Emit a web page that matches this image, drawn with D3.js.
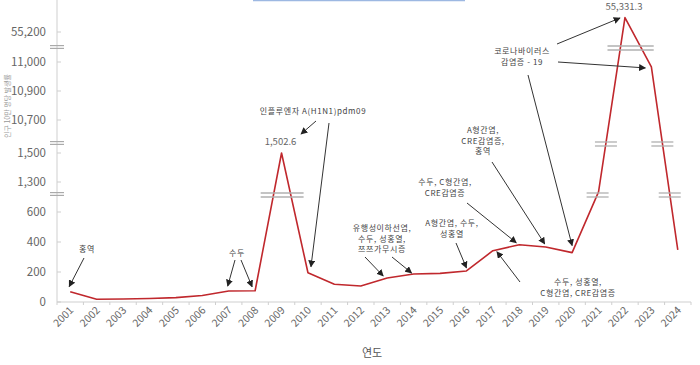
<!DOCTYPE html>
<html>
<head>
<meta charset="utf-8">
<script src="https://cdn.jsdelivr.net/npm/d3@7/dist/d3.min.js"></script>
<style>
  body { margin: 0; background: #fff; }
  svg { display: block; font-family: "Noto Sans CJK KR", "DejaVu Sans", sans-serif; }
</style>
</head>
<body>
<div id="chart"></div>
<script>
// incidence per 100k by year
const years = ['2001','2002','2003','2004','2005','2006','2007','2008','2009','2010','2011','2012',
  '2013','2014','2015','2016','2017','2018','2019','2020','2021','2022','2023','2024'];
const values = [69, 18, 20, 23, 29, 43, 73, 75, 1502.6, 195, 118, 107,
  160, 187, 191, 207, 342, 382, 367, 329, 1070, 55331.3, 10983, 347];

// broken y axis: tick labels and where the axis is cut
const yTicks = [0, 200, 400, 600, 1300, 1500, 10700, 10900, 11000, 55200];
const yBreaks = [1020, 4290, 33100];

const xTitle = '연도';
const yTitle = '인구 10만 명당 발생률';

let width = 700, height = 365;
let svg = d3.select('#chart').append('svg').attr('width', width).attr('height', height);

let x = d3.scaleBand().domain(years).range([57, 691]);
let bw = x.bandwidth();
// piecewise scale, one piece per axis segment
let y = d3.scaleLinear()
  .domain([0, 600, 1300, 1500, 10700, 10900, 11000, 55200, 55400])
  .range([302, 212, 182, 153, 120, 91, 62, 32, 10]);

let data = years.map((yr, i) => ({year: yr, value: values[i]}));
let px = d => x(d.year) + bw / 2;
let py = d => y(d.value);

// faint blue rule at top (cropped from source)
svg.append('line').attr('x1', 253).attr('x2', 465).attr('y1', 0.5).attr('y2', 0.5)
  .attr('stroke', '#9db8e2').attr('stroke-width', 1.5);

// axes
svg.append('line').attr('x1', 57).attr('x2', 57).attr('y1', 0).attr('y2', 302)
  .attr('stroke', '#cfcfcf');
svg.append('line').attr('x1', 57).attr('x2', 691).attr('y1', 302).attr('y2', 302)
  .attr('stroke', '#cfcfcf');

let bounds = years.map(yr => x(yr)).concat([x.range()[1]]);
svg.selectAll('.xtick').data(bounds).join('line')
  .attr('x1', d => d).attr('x2', d => d).attr('y1', 302).attr('y2', 305)
  .attr('stroke', '#cfcfcf');

svg.selectAll('.xlab').data(years).join('text')
  .attr('transform', d => `translate(${x(d) + bw / 2 + 4},${311}) rotate(-45)`)
  .attr('text-anchor', 'end')
  .attr('font-size', 10.5)
  .attr('fill', '#666')
  .text(d => d);

svg.selectAll('.ytick').data(yTicks).join('line')
  .attr('x1', 57).attr('x2', 61).attr('y1', d => y(d)).attr('y2', d => y(d))
  .attr('stroke', '#cfcfcf');

svg.selectAll('.ylab').data(yTicks).join('text')
  .attr('x', 46).attr('y', d => y(d) + 4)
  .attr('text-anchor', 'end')
  .attr('font-size', 11.5)
  .attr('fill', '#666')
  .text(d => d3.format(',')(d));

// axis break marks
yBreaks.forEach(b => {
  [-1.4, 1.4].forEach(o => {
    svg.append('line').attr('x1', 50).attr('x2', 64)
      .attr('y1', y(b) + o).attr('y2', y(b) + o)
      .attr('stroke', '#aaa').attr('stroke-width', 1.2);
  });
});

svg.append('text').attr('x', 372).attr('y', 357).attr('text-anchor', 'middle')
  .attr('font-size', 11).attr('fill', '#555').text(xTitle);

svg.append('text').attr('transform', 'translate(10,106) rotate(-90)')
  .attr('text-anchor', 'middle').attr('font-size', 7).attr('fill', '#999').text(yTitle);

// the line
svg.append('path').datum(data)
  .attr('fill', 'none').attr('stroke', '#c0282d').attr('stroke-width', 1.6)
  .attr('stroke-linejoin', 'round')
  .attr('d', d3.line().x(px).y(py));

// break marks where the line passes through a cut
yBreaks.forEach(b => {
  let yb = y(b);
  let hits = [];
  for (let i = 0; i < data.length - 1; i++) {
    let y0 = py(data[i]), y1 = py(data[i + 1]);
    if ((y0 - yb) * (y1 - yb) < 0) {
      let t = (y0 - yb) / (y0 - y1);
      hits.push({i: i, x: px(data[i]) + t * bw});
    }
  }
  let spans = [];
  hits.forEach(h => {
    let last = spans[spans.length - 1];
    if (last && h.i == last.i + 1) { last.x2 = h.x + 13; last.i = h.i; }
    else spans.push({i: h.i, x1: h.x - 11, x2: h.x + 11, single: true});
  });
  spans.forEach(s => {
    if (s.x2 - s.x1 > 22) s.x1 -= 2;
    [-2, 2].forEach(o => {
      svg.append('line').attr('x1', s.x1).attr('x2', s.x2)
        .attr('y1', yb + 1 + o).attr('y2', yb + 1 + o)
        .attr('stroke', '#b0b0b0').attr('stroke-width', 1.3);
    });
  });
});

// value labels
let peakLabels = ['2009', '2022'];
peakLabels.forEach(yr => {
  let d = data.find(e => e.year == yr);
  svg.append('text').attr('x', px(d) - 1).attr('y', Math.max(py(d) - 8, 10))
    .attr('text-anchor', 'middle').attr('font-size', 9.5).attr('fill', '#666')
    .text(d3.format(',.1f')(d.value));
});

// annotations
svg.append('defs').append('marker')
  .attr('id', 'arr').attr('viewBox', '0 0 10 10').attr('refX', 9).attr('refY', 5)
  .attr('markerWidth', 7).attr('markerHeight', 7).attr('orient', 'auto')
  .append('path').attr('d', 'M0,0L10,5L0,10z').attr('fill', '#222');

let pt = (yr, dx, dy) => {
  let d = data.find(e => e.year == yr);
  return [px(d) + dx, py(d) + dy];
};

let notes = [
  {lines: ['홍역'], at: [87, 249], arrows: [[[84, 258], pt('2001', -1, -5)]]},
  {lines: ['수두'], at: [237, 253], arrows: [[[235, 260], pt('2007', -1, -5)], [[241, 260], pt('2008', -3, -4)]]},
  {lines: ['인플루엔자 A(H1N1)pdm09'], at: [313, 111], arrows: [[[316, 121], [301, 134]], [[329, 123], pt('2010', 3, -6)]]},
  {lines: ['유행성이하선염,', '수두, 성홍열,', '쯔쯔가무시증'], at: [382, 228], arrows: [[[365, 257], pt('2013', -4, -2)], [[392, 257], pt('2014', -2, -1)]]},
  {lines: ['A형간염, 수두,', '성홍열'], at: [452, 223], arrows: [[[456, 243], pt('2016', 0, -3)]]},
  {lines: ['수두, C형간염,', 'CRE감염증'], at: [445, 182], arrows: [[[467, 203], pt('2018', -3, -2)]]},
  {lines: ['A형간염,', 'CRE감염증,', '홍역'], at: [483, 130], arrows: [[[492, 162], pt('2019', -1, -3)]]},
  {lines: ['수두, 성홍열,', 'C형간염, CRE감염증'], at: [578, 282], arrows: [[[520, 282], pt('2017', 4, 1)]]},
  {lines: ['코로나바이러스', '감염증 - 19'], at: [522, 51], arrows: [[[557, 44], [620, 18]], [[558, 62], pt('2023', -6, 1)], [[528, 75], pt('2020', 0, -7)]]}
];

notes.forEach(n => {
  let t = svg.append('text').attr('text-anchor', 'middle').attr('font-size', 8)
    .attr('fill', '#444').attr('letter-spacing', 0.6);
  n.lines.forEach((l, i) => {
    t.append('tspan').attr('x', n.at[0]).attr('y', n.at[1] + 3 + i * 10.5).text(l);
  });
  n.arrows.forEach(a => {
    svg.append('line').attr('x1', a[0][0]).attr('y1', a[0][1])
      .attr('x2', a[1][0]).attr('y2', a[1][1])
      .attr('stroke', '#333').attr('stroke-width', 1)
      .attr('marker-end', 'url(#arr)');
  });
});
</script>
</body>
</html>
